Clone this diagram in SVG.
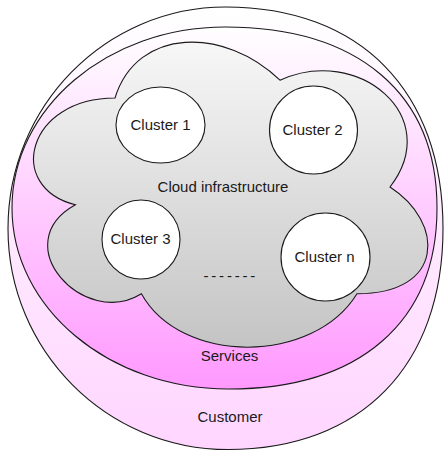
<svg xmlns="http://www.w3.org/2000/svg" width="444" height="451" viewBox="0 0 444 451">
  <defs>
    <linearGradient id="gCustomer" x1="0" y1="0" x2="0" y2="1">
      <stop offset="0" stop-color="#FFFFFF"/>
      <stop offset="1" stop-color="#FFD5FF"/>
    </linearGradient>
    <linearGradient id="gServices" x1="0" y1="0" x2="0" y2="1">
      <stop offset="0" stop-color="#FFFFFF"/>
      <stop offset="1" stop-color="#FF99FF"/>
    </linearGradient>
    <linearGradient id="gCloud" x1="0" y1="0" x2="0" y2="1">
      <stop offset="0" stop-color="#F7F7F7"/>
      <stop offset="1" stop-color="#C4C4C4"/>
    </linearGradient>
    <style>
      .shape { stroke: #1a1a1a; stroke-width: 1.1; }
      .cluster { fill: #FFFFFF; stroke: #1a1a1a; stroke-width: 1.1; }
      .lbl { font-family: "Liberation Sans", Arial, Helvetica, sans-serif; font-size: 15px; fill: #1a1a1a; text-anchor: middle; }
    </style>
  </defs>

  <g id="customer">
    <path class="shape" fill="url(#gCustomer)" d="M225.5 7 C360.4 7 443 91.2 443 228.5 C443 365.5 361.3 449.5 228 449.5 C106.5 449.5 8 350.6 8 228.5 C8 106.2 105.4 7 225.5 7 Z"/>
    <text class="lbl" x="230" y="422">Customer</text>
  </g>

  <g id="services">
    <path class="shape" fill="url(#gServices)" d="M225 27 C358.6 27 437 94 437 208 C437 322 359.9 389 228.5 389 C108.9 389 12 308 12 208 C12 108 107.4 27 225 27 Z"/>
    <text class="lbl" x="229.5" y="361">Services</text>
  </g>

  <g id="cloud-infrastructure">
    <path class="shape" fill="url(#gCloud)" d="M115 98 C27 98 5 187 75.4 204.8 C5 243.96 84.2 329.4 141.4 293.8 C181 365 313 365 357 293.8 C445 293.8 445 222.6 390 187 C445 115.8 357 44.6 280 80.2 C225 26.8 137 26.8 115 98 Z"/>
    <text class="lbl" x="223" y="192">Cloud infrastructure</text>
  </g>

  <g id="cluster-1">
    <ellipse class="cluster" cx="160.5" cy="125" rx="44.5" ry="38"/>
    <text class="lbl" x="160.5" y="129.5">Cluster 1</text>
  </g>

  <g id="cluster-2">
    <ellipse class="cluster" cx="313.5" cy="130" rx="44" ry="44"/>
    <text class="lbl" x="312.5" y="135">Cluster 2</text>
  </g>

  <g id="cluster-3">
    <ellipse class="cluster" cx="141" cy="239.5" rx="39" ry="39.5"/>
    <text class="lbl" x="140.5" y="244">Cluster 3</text>
  </g>

  <g id="cluster-n">
    <ellipse class="cluster" cx="325.5" cy="257" rx="44.5" ry="44"/>
    <text class="lbl" x="324.5" y="262">Cluster n</text>
  </g>

  <g id="ellipsis">
    <text x="203.5" y="280.5" style="font-family: 'Liberation Sans', Arial, sans-serif; font-size: 15px; fill: #1a1a1a; letter-spacing: 2.8px;">-------</text>
  </g>

  <g id="connectors"/>
</svg>
